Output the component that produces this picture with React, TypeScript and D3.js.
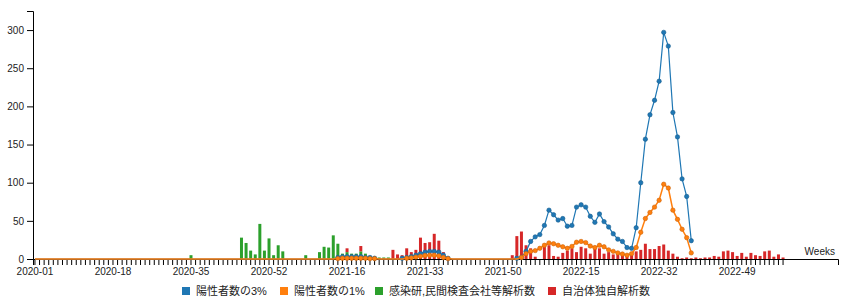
import React, { useEffect, useRef } from 'react';
import * as d3 from 'd3';

// ISO week categories: 2020 has 53 weeks
const YEAR_WEEKS: [number, number][] = [[2020, 53], [2021, 52], [2022, 52], [2023, 7]];
const weeks: string[] = YEAR_WEEKS.flatMap(([yr, n]) =>
  d3.range(1, n + 1).map((w) => `${yr}-${String(w).padStart(2, '0')}`)
);
const tickLabels = ['2020-01', '2020-18', '2020-35', '2020-52', '2021-16', '2021-33', '2021-50', '2022-15', '2022-32', '2022-49'];
const lineLastWeek = '2022-39';

const seriesNames = ['陽性者数の3%', '陽性者数の1%', '感染研,民間検査会社等解析数', '自治体独自解析数'];
const seriesColors = ['#1f77b4', '#ff7f0e', '#2ca02c', '#d62728'];

// 感染研,民間検査会社等解析数 (green bars)
const greenCounts: Record<string, number> = {
  '2020-35': 5,
  '2020-46': 28, '2020-47': 21, '2020-48': 11, '2020-49': 6, '2020-50': 46, '2020-51': 11, '2020-52': 27, '2020-53': 5,
  '2021-01': 18, '2021-02': 10, '2021-07': 5,
  '2021-10': 9, '2021-11': 16, '2021-12': 15, '2021-13': 31, '2021-14': 20, '2021-15': 7, '2021-16': 9,
  '2021-17': 7, '2021-18': 7, '2021-19': 10, '2021-20': 7, '2021-21': 4, '2021-22': 3, '2021-23': 2, '2021-24': 2, '2021-25': 2,
};

// 自治体独自解析数 (red bars)
const redCounts: Record<string, number> = {
  '2021-16': 5, '2021-19': 7,
  '2021-26': 12, '2021-27': 6, '2021-28': 5, '2021-29': 14, '2021-30': 9, '2021-31': 12, '2021-32': 28,
  '2021-33': 21, '2021-34': 22, '2021-35': 33, '2021-36': 24, '2021-37': 9,
  '2021-52': 5,
  '2022-01': 30, '2022-02': 36, '2022-03': 18, '2022-04': 14, '2022-05': 3, '2022-07': 16, '2022-08': 18,
  '2022-09': 4, '2022-10': 3, '2022-11': 8, '2022-12': 11, '2022-13': 14, '2022-14': 9, '2022-15': 16, '2022-16': 14,
  '2022-17': 7, '2022-18': 16, '2022-19': 14, '2022-20': 7, '2022-21': 9, '2022-22': 6, '2022-23': 8, '2022-24': 7,
  '2022-25': 6, '2022-26': 5, '2022-27': 10, '2022-28': 12, '2022-29': 20, '2022-30': 13, '2022-31': 13, '2022-32': 17,
  '2022-33': 19, '2022-34': 11, '2022-35': 7, '2022-36': 3, '2022-37': 1, '2022-38': 2, '2022-39': 1, '2022-40': 2,
  '2022-41': 1, '2022-42': 2, '2022-43': 2, '2022-44': 4, '2022-45': 3, '2022-46': 10, '2022-47': 11, '2022-48': 9,
  '2022-49': 4, '2022-50': 8, '2022-51': 3, '2022-52': 8, '2023-01': 5, '2023-02': 4, '2023-03': 10, '2023-04': 11,
  '2023-05': 3, '2023-06': 6, '2023-07': 2,
};

// 陽性者数の3% (blue line)
const pos3: Record<string, number> = {
  '2021-14': 2, '2021-15': 3, '2021-16': 3, '2021-17': 3, '2021-18': 3, '2021-19': 3, '2021-20': 2, '2021-21': 2, '2021-22': 1,
  '2021-28': 1, '2021-29': 2, '2021-30': 3, '2021-31': 5, '2021-32': 7, '2021-33': 9, '2021-34': 10, '2021-35': 10,
  '2021-36': 9, '2021-37': 5, '2021-38': 1,
  '2022-01': 1, '2022-02': 2, '2022-03': 10, '2022-04': 23, '2022-05': 29, '2022-06': 32, '2022-07': 44, '2022-08': 64,
  '2022-09': 58, '2022-10': 51, '2022-11': 53, '2022-12': 43, '2022-13': 44, '2022-14': 68, '2022-15': 71, '2022-16': 68,
  '2022-17': 56, '2022-18': 48, '2022-19': 59, '2022-20': 49, '2022-21': 42, '2022-22': 33, '2022-23': 26, '2022-24': 23,
  '2022-25': 15, '2022-26': 14, '2022-27': 41, '2022-28': 100, '2022-29': 157, '2022-30': 189, '2022-31': 208, '2022-32': 233,
  '2022-33': 297, '2022-34': 279, '2022-35': 192, '2022-36': 160, '2022-37': 105, '2022-38': 82, '2022-39': 24,
};

// 陽性者数の1% (orange line)
const pos1: Record<string, number> = {
  '2021-14': 0.5, '2021-15': 1, '2021-16': 1, '2021-17': 1, '2021-18': 1, '2021-19': 1, '2021-20': 1, '2021-21': 0.5, '2021-22': 0.5,
  '2021-29': 1, '2021-30': 1.5, '2021-31': 2.5, '2021-32': 3.5, '2021-33': 4.5, '2021-34': 5, '2021-35': 5, '2021-36': 4,
  '2021-37': 2, '2021-38': 0.5,
  '2022-02': 2, '2022-03': 7, '2022-04': 10, '2022-05': 11, '2022-06': 14, '2022-07': 18, '2022-08': 21, '2022-09': 20,
  '2022-10': 18, '2022-11': 16, '2022-12': 14, '2022-13': 16.5, '2022-14': 22, '2022-15': 23, '2022-16': 21.5, '2022-17': 17,
  '2022-18': 15, '2022-19': 18, '2022-20': 16, '2022-21': 12, '2022-22': 10, '2022-23': 8, '2022-24': 6.5, '2022-25': 5,
  '2022-26': 7, '2022-27': 15, '2022-28': 35, '2022-29': 53, '2022-30': 61, '2022-31': 68, '2022-32': 77, '2022-33': 98,
  '2022-34': 93, '2022-35': 64, '2022-36': 52, '2022-37': 39, '2022-38': 28, '2022-39': 8,
};

const legendX = [182, 280, 375, 548];

export default function App() {
  const ref = useRef<SVGSVGElement>(null);

  useEffect(() => {
    const svg = d3.select(ref.current);
    svg.selectAll('*').remove();

    const x0 = 33, x1 = 785, xEnd = 838, yBase = 259, yTop = 11;
    const font = '"Liberation Sans", Arial, Helvetica, sans-serif';
    const cjkFont = '"Liberation Sans", "Noto Sans CJK JP", sans-serif';

    const x = d3.scaleBand<string>().domain(weeks).range([x0, x1]).paddingInner(0.35).paddingOuter(0.1);
    const y = d3.scaleLinear().domain([0, 325]).range([yBase, yTop]);
    const cx = (w: string) => (x(w) ?? 0) + x.bandwidth() / 2;

    // Y axis
    const gy = svg.append('g').attr('transform', `translate(${x0},0)`).call(d3.axisLeft(y).ticks(10));
    gy.selectAll('text').attr('font-family', font).attr('font-size', 10).attr('fill', '#222');

    // X axis
    const gx = svg.append('g').attr('transform', `translate(0,${yBase})`)
      .call(d3.axisBottom(x).tickSizeOuter(0).tickFormat((d) => (tickLabels.includes(d as string) ? (d as string) : '')));
    gx.select('.domain').attr('d', `M${x0 + 0.5},6V0.5H${xEnd + 0.5}V6`);
    gx.selectAll('text').attr('font-family', font).attr('font-size', 10).attr('fill', '#222');

    svg.append('text').attr('x', 835).attr('y', 255).attr('text-anchor', 'end')
      .attr('font-family', font).attr('font-size', 10).attr('fill', '#222').text('Weeks');

    // stacked bars
    const stackRows = weeks.map((w) => ({ week: w, green: greenCounts[w] ?? 0, red: redCounts[w] ?? 0 }));
    const stacked = d3.stack<any>().keys(['green', 'red'])(stackRows);
    const barColor: Record<string, string> = { green: seriesColors[2], red: seriesColors[3] };
    svg.append('g').selectAll('g').data(stacked).join('g')
      .attr('fill', (d) => barColor[d.key])
      .selectAll('rect').data((d) => d.filter((p) => p[1] - p[0] > 0)).join('rect')
      .attr('x', (p: any) => x(p.data.week) ?? 0)
      .attr('width', x.bandwidth())
      .attr('y', (p) => y(p[1]))
      .attr('height', (p) => y(p[0]) - y(p[1]));

    // lines
    const lineWeeks = weeks.slice(0, weeks.indexOf(lineLastWeek) + 1);
    const drawLine = (rec: Record<string, number>, color: string, sw: number) => {
      const pts = lineWeeks.map((w) => ({ w, v: rec[w] ?? 0 }));
      const line = d3.line<{ w: string; v: number }>().x((d) => cx(d.w)).y((d) => y(d.v));
      const g = svg.append('g');
      g.append('path').datum(pts).attr('d', line).attr('fill', 'none').attr('stroke', color).attr('stroke-width', sw);
      g.selectAll('circle').data(pts.filter((d) => d.v > 0)).join('circle')
        .attr('cx', (d) => cx(d.w)).attr('cy', (d) => y(d.v)).attr('r', 2.2)
        .attr('fill', color).attr('stroke', d3.color(color)!.darker(0.6).toString()).attr('stroke-width', 0.6);
    };
    drawLine(pos3, seriesColors[0], 1.2);
    drawLine(pos1, seriesColors[1], 1.5);

    // legend
    const lg = svg.append('g');
    seriesNames.forEach((name, i) => {
      lg.append('rect').attr('x', legendX[i]).attr('y', 287).attr('width', 8).attr('height', 8).attr('fill', seriesColors[i]);
      lg.append('text').attr('x', legendX[i] + 14).attr('y', 295)
        .attr('font-family', cjkFont).attr('font-size', 11).attr('fill', '#222').text(name);
    });
  }, []);

  return (
    <svg ref={ref} width={844} height={297}
      style={{ position: 'absolute', left: 0, top: 0, background: '#fff', display: 'block' }} />
  );
}
